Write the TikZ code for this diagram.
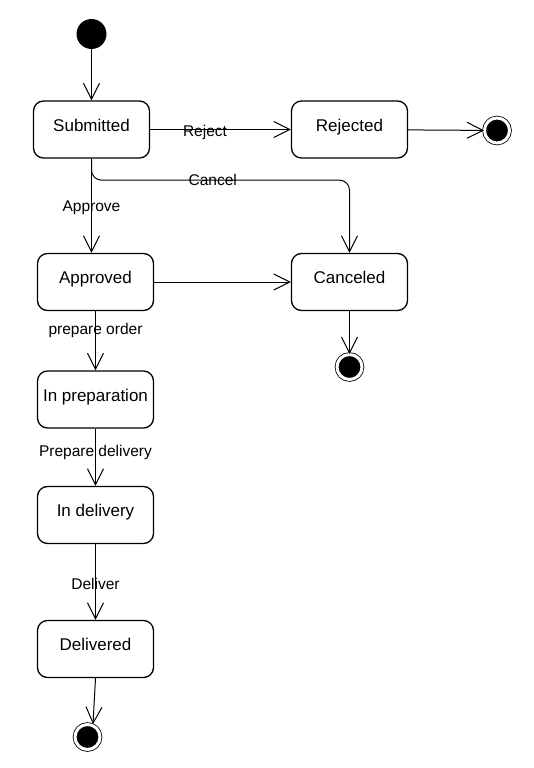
\documentclass[tikz,border=0pt]{standalone}
\usepackage{fontspec}
\setmainfont{Liberation Sans}
\usetikzlibrary{arrows.meta}

\begin{document}
\begin{tikzpicture}[x=1pt,y=-1pt,-{Straight Barb[length=16pt,width=16pt]},line width=1pt]
  \tikzstyle{state}=[draw, rounded corners=10pt, minimum width=116pt, minimum height=57pt, line width=1.3pt, font=\fontsize{17}{20}\selectfont, text height=12pt, text depth=9pt]
  \tikzstyle{initial}=[circle, fill=black, minimum size=30pt, inner sep=0pt]
  \tikzstyle{final}=[circle, draw, fill=black, minimum size=25pt, inner sep=0pt, double=white, double distance=3pt, line width=0.8pt]
  \tikzstyle{lbl}=[font=\fontsize{15.5}{18}\selectfont, inner sep=0pt]
  \useasboundingbox (0,0) rectangle (534,768);
  \node[initial] (init)   at (91.5,34)    {};
  \node[state]   (sub)    at (91.5,129.5) {Submitted};
  \node[state]   (rej)    at (349.5,129.5){Rejected};
  \node[final]   (endrej) at (497,130.5)  {};
  \node[state]   (app)    at (95.5,282)   {Approved};
  \node[state]   (can)    at (349.5,282)  {Canceled};
  \node[final]   (endcan) at (349.5,367)  {};
  \node[state]   (prep)   at (95.5,399.5) {In preparation};
  \node[state]   (deliv)  at (95.5,515)   {In delivery};
  \node[state]   (del)    at (95.5,649)   {Delivered};
  \node[final]   (enddel) at (87.5,737)   {};
  \draw (init) -- (sub);
  \draw (sub) -- node[lbl,pos=0.39,yshift=-3pt] {Reject} (rej);
  \draw (rej) -- (endrej);
  \draw[rounded corners=10pt] (sub.south) -- ++(0,21.5) -| node[lbl,pos=0.235] {Cancel} (can.north);
  \draw (sub.south) -- node[lbl,yshift=-2pt] {Approve} (sub.south |- app.north);
  \draw (app) -- (can);
  \draw (can) -- (endcan);
  \draw (app) -- node[lbl,pos=0.33] {prepare order} (prep);
  \draw (prep) -- node[lbl,pos=0.41] {Prepare delivery} (deliv);
  \draw (deliv) -- node[lbl,pos=0.53] {Deliver} (del);
  \draw (del.south) -- ([xshift=5.5pt]enddel.north);
\end{tikzpicture}
\end{document}
